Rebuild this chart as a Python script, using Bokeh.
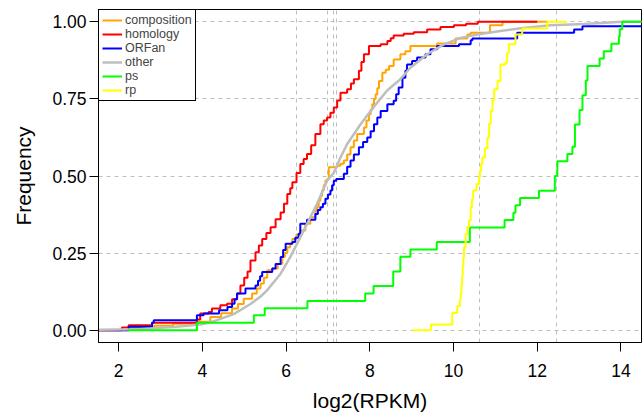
from bokeh.plotting import figure
from bokeh.models import Range1d, FixedTicker, Legend, LegendItem
from bokeh.embed import file_html
from bokeh.resources import INLINE

# ---------------- data ----------------
series_names = ["composition", "homology", "ORFan", "other", "ps", "rp"]
series_colors = ["#FFA500", "#FF0000", "#0000FF", "#BEBEBE", "#00FF00", "#FFFF00"]

# step curves: x = value where the ECDF jumps, y = level after the jump
comp_x = [2.25, 2.85, 3.30, 3.90, 4.19, 4.45, 4.71, 4.85, 4.99, 5.19, 5.30, 5.39, 5.47, 5.55,
          5.67, 5.80, 5.91, 5.97, 6.03, 6.10, 6.15, 6.25, 6.34, 6.46, 6.58, 6.70, 6.74, 6.78,
          6.82, 6.86, 6.90, 6.94, 6.98, 7.02, 7.22, 7.30, 7.38, 7.46, 7.54, 7.62, 7.70, 7.86,
          7.92, 7.98, 8.02, 8.06, 8.10, 8.14, 8.18, 8.22, 8.30, 8.38, 8.46, 8.57, 8.73, 8.85,
          8.97, 9.61, 10.05, 10.33, 10.41, 10.87, 11.17]
comp_y = [0.007, 0.014, 0.021, 0.027, 0.043, 0.055, 0.070, 0.085, 0.102, 0.119, 0.135, 0.151,
          0.170, 0.194, 0.200, 0.215, 0.237, 0.250, 0.269, 0.280, 0.296, 0.310, 0.323, 0.345,
          0.366, 0.388, 0.400, 0.420, 0.435, 0.453, 0.470, 0.485, 0.490, 0.528, 0.533, 0.540,
          0.550, 0.570, 0.593, 0.615, 0.636, 0.657, 0.680, 0.700, 0.715, 0.733, 0.750, 0.765,
          0.785, 0.808, 0.835, 0.845, 0.857, 0.878, 0.895, 0.905, 0.922, 0.930, 0.946, 0.959,
          0.965, 0.989, 1.000]
comp_start, comp_end = 1.10, 12.24

homo_x = [2.08, 2.24, 2.80, 3.87, 3.95, 4.15, 4.23, 4.43, 4.59, 4.71, 4.83, 4.91, 5.00, 5.08,
          5.15, 5.27, 5.35, 5.43, 5.53, 5.63, 5.75, 5.87, 5.95, 6.03, 6.10, 6.15, 6.25, 6.34,
          6.42, 6.50, 6.60, 6.70, 6.82, 6.90, 6.98, 7.06, 7.14, 7.22, 7.30, 7.46, 7.55, 7.62,
          7.74, 7.80, 7.86, 7.98, 8.26, 8.42, 8.50, 8.57, 8.81, 9.05, 9.37, 9.69, 10.01, 10.30,
          10.58]
homo_y = [0.009, 0.016, 0.024, 0.035, 0.054, 0.059, 0.070, 0.081, 0.086, 0.100, 0.119, 0.145,
          0.170, 0.190, 0.226, 0.253, 0.275, 0.296, 0.315, 0.334, 0.360, 0.382, 0.410, 0.442,
          0.460, 0.480, 0.510, 0.539, 0.555, 0.571, 0.600, 0.636, 0.668, 0.680, 0.690, 0.705,
          0.722, 0.745, 0.770, 0.781, 0.800, 0.814, 0.841, 0.870, 0.895, 0.922, 0.927, 0.938,
          0.947, 0.956, 0.961, 0.966, 0.975, 0.983, 0.989, 0.994, 1.000]
homo_start, homo_end = 0.70, 12.00

orf_x = [2.24, 2.80, 2.84, 3.87, 4.03, 4.40, 4.60, 4.71, 4.77, 4.83, 5.03, 5.27, 5.33, 5.38,
         5.43, 5.67, 5.75, 5.87, 5.93, 5.99, 6.15, 6.22, 6.30, 6.34, 6.50, 6.70, 6.76, 6.82,
         6.88, 6.94, 7.00, 7.06, 7.10, 7.14, 7.20, 7.38, 7.46, 7.54, 7.62, 7.74, 7.84, 7.94,
         8.02, 8.10, 8.18, 8.26, 8.42, 8.57, 8.63, 8.69, 8.78, 8.85, 8.89, 9.01, 9.13, 9.33,
         9.45, 9.61, 10.13, 10.41, 10.45, 11.52, 12.88, 13.08]
orf_y = [0.011, 0.024, 0.032, 0.048, 0.054, 0.065, 0.075, 0.086, 0.100, 0.119, 0.135, 0.145,
         0.160, 0.175, 0.189, 0.200, 0.215, 0.237, 0.260, 0.280, 0.286, 0.300, 0.313, 0.345,
         0.358, 0.377, 0.390, 0.399, 0.410, 0.426, 0.440, 0.453, 0.470, 0.485, 0.490, 0.507,
         0.530, 0.550, 0.570, 0.593, 0.610, 0.625, 0.645, 0.668, 0.690, 0.711, 0.733, 0.744,
         0.765, 0.787, 0.819, 0.841, 0.862, 0.873, 0.884, 0.895, 0.911, 0.922, 0.927, 0.940,
         0.946, 0.965, 0.975, 0.986]
orf_start, orf_end = 0.50, 16.00

# "other" has so many values that it reads as a smooth curve
other_x = [1.00, 2.50, 3.30, 3.96, 4.30, 4.75, 5.15, 5.40, 5.55, 5.87, 6.10, 6.26, 6.42, 6.58,
           6.74, 6.86, 6.98, 7.14, 7.30, 7.46, 7.78, 8.10, 8.42, 8.73, 8.97, 9.37, 9.77, 10.17,
           10.57, 11.12, 11.60, 12.32, 13.12, 14.03, 16.00]
other_y = [0.000, 0.003, 0.010, 0.018, 0.030, 0.052, 0.085, 0.110, 0.130, 0.183, 0.237, 0.280,
           0.323, 0.366, 0.410, 0.447, 0.485, 0.510, 0.560, 0.604, 0.668, 0.725, 0.778, 0.814,
           0.851, 0.895, 0.927, 0.948, 0.959, 0.970, 0.979, 0.989, 0.993, 1.000, 1.000]

ps_x = [3.87, 5.23, 5.49, 6.51, 7.89, 8.09, 8.56, 8.73, 8.97, 9.60, 10.39, 11.22, 11.43, 11.48,
        11.59, 12.04, 12.42, 12.48, 12.72, 12.84, 12.90, 13.01, 13.08, 13.16, 13.20, 13.49,
        13.59, 13.77, 13.95, 13.97, 14.03]
ps_y = [0.024, 0.048, 0.071, 0.095, 0.119, 0.143, 0.190, 0.238, 0.262, 0.286, 0.333, 0.357,
        0.381, 0.405, 0.429, 0.452, 0.500, 0.548, 0.571, 0.595, 0.667, 0.714, 0.762, 0.810,
        0.857, 0.881, 0.905, 0.929, 0.952, 0.976, 1.000]
ps_start, ps_end = 2.23, 16.00

rp_x = [9.46, 9.97, 10.09, 10.15, 10.17, 10.19, 10.205, 10.22, 10.235, 10.25, 10.29, 10.33,
        10.37, 10.41, 10.44, 10.47, 10.55, 10.61, 10.63, 10.66, 10.69, 10.75, 10.81, 10.85,
        10.89, 10.93, 10.97, 11.05, 11.12, 11.24, 11.28, 11.32, 11.48, 11.64, 12.24]
rp_y = [0.018, 0.056, 0.078, 0.097, 0.120, 0.145, 0.175, 0.205, 0.235, 0.269, 0.313, 0.335,
        0.356, 0.399, 0.425, 0.453, 0.474, 0.496, 0.517, 0.540, 0.560, 0.590, 0.625, 0.670,
        0.711, 0.745, 0.781, 0.808, 0.862, 0.867, 0.900, 0.927, 0.959, 0.978, 1.000]
rp_start, rp_end = 9.01, 12.70

# medians (vertical dashed guides)
medians = [6.24, 6.98, 7.13, 7.21, 10.62, 12.46]

x_ticks = [2, 4, 6, 8, 10, 12, 14]
y_ticks = [0.0, 0.25, 0.5, 0.75, 1.0]
y_tick_labels = ["0.00", "0.25", "0.50", "0.75", "1.00"]
x_title = "log2(RPKM)"
y_title = "Frequency"

# ---------------- figure ----------------
FONT = "Liberation Sans"
p = figure(width=643, height=418, output_backend="svg", toolbar_location=None,
           x_range=Range1d(1.52, 14.49), y_range=Range1d(-0.04, 1.04),
           min_border_left=98, min_border_right=2, min_border_top=9, min_border_bottom=76)
p.background_fill_color = "white"
p.border_fill_color = "white"
p.outline_line_color = "black"
p.outline_line_width = 1
p.outline_line_alpha = 1

# grids
p.xgrid.ticker = FixedTicker(ticks=medians)
p.ygrid.ticker = FixedTicker(ticks=y_ticks)
for g in (p.xgrid, p.ygrid):
    g.grid_line_color = "#BEBEBE"
    g.grid_line_dash = "4 4"
    g.grid_line_width = 1

# axes
p.xaxis.ticker = FixedTicker(ticks=x_ticks)
p.yaxis.ticker = FixedTicker(ticks=y_ticks)
p.yaxis.major_label_overrides = {t: l for t, l in zip(y_ticks, y_tick_labels)}
p.xaxis.axis_label = x_title
p.yaxis.axis_label = y_title
for ax in (p.xaxis[0], p.yaxis[0]):
    ax.axis_line_color = "black"
    ax.major_tick_line_color = "black"
    ax.minor_tick_line_color = None
    ax.major_tick_in = 0
    ax.major_tick_out = 9
    ax.major_label_text_font = FONT
    ax.major_label_text_font_size = "17.5px"
    ax.major_label_text_color = "black"
    ax.axis_label_text_font = FONT
    ax.axis_label_text_font_size = "21px"
    ax.axis_label_text_font_style = "normal"
    ax.axis_label_text_color = "black"
p.xaxis.major_label_standoff = 12
p.xaxis.axis_label_standoff = 9
p.yaxis.major_label_standoff = 3
p.yaxis.axis_label_standoff = 14


def step_series(xs, ys, x0, x1):
    return [x0] + xs + [x1], [0.0] + ys + [ys[-1]]


renderers = {}
sx, sy = step_series(comp_x, comp_y, comp_start, comp_end)
renderers["composition"] = p.step(sx, sy, mode="after", line_color=series_colors[0], line_width=2)
sx, sy = step_series(homo_x, homo_y, homo_start, homo_end)
renderers["homology"] = p.step(sx, sy, mode="after", line_color=series_colors[1], line_width=2)
sx, sy = step_series(orf_x, orf_y, orf_start, orf_end)
renderers["ORFan"] = p.step(sx, sy, mode="after", line_color=series_colors[2], line_width=2)
renderers["other"] = p.line(other_x, other_y, line_color=series_colors[3], line_width=2.5)
sx, sy = step_series(ps_x, ps_y, ps_start, ps_end)
renderers["ps"] = p.step(sx, sy, mode="after", line_color=series_colors[4], line_width=2)
sx, sy = step_series(rp_x, rp_y, rp_start, rp_end)
renderers["rp"] = p.step(sx, sy, mode="after", line_color=series_colors[5], line_width=2)

legend = Legend(items=[LegendItem(label=n, renderers=[renderers[n]]) for n in series_names],
                location="top_left")
legend.margin = 0
legend.padding = 3
legend.spacing = 0
legend.glyph_width = 20
legend.glyph_height = 12
legend.label_height = 12
legend.label_standoff = 3
legend.label_text_font = FONT
legend.label_text_font_size = "12.5px"
legend.label_text_line_height = 1.0
legend.border_line_color = "black"
legend.border_line_width = 1
legend.border_line_alpha = 1
legend.background_fill_color = "white"
legend.background_fill_alpha = 1
p.add_layout(legend)

open("out.html", "w").write(file_html(p, INLINE))
